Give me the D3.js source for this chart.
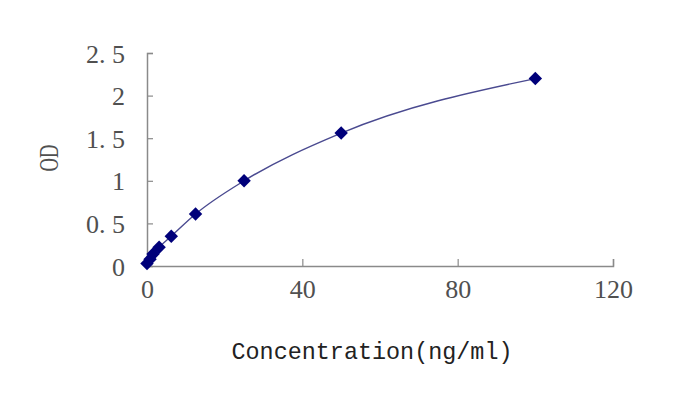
<!DOCTYPE html>
<html><head><meta charset="utf-8">
<script src="https://cdn.jsdelivr.net/npm/d3@7"></script>
<style>body{margin:0;background:#fff}svg{display:block}</style>
</head><body>
<svg id="c" width="680" height="406"></svg>
<script>
const concentration = [0, 0.78, 1.56, 3.12, 6.25, 12.5, 25, 50, 100];
const od = [0.03, 0.08, 0.14, 0.22, 0.35, 0.61, 1.0, 1.56, 2.2];
const xTicks = [0, 40, 80, 120];
const yTicks = [0, 0.5, 1, 1.5, 2, 2.5];
const yTickLabels = ["0", "0. 5", "1", "1. 5", "2", "2. 5"];
const xTitle = "Concentration(ng/ml)";
const yTitle = "OD";

const svg = d3.select("#c");
const x = d3.scaleLinear().domain([0, 120]).range([147, 613]);
const y = d3.scaleLinear().domain([0, 2.5]).range([266, 53]);
const axisColor = "#8a8a8a";

// axes
const xa = svg.append("g").attr("transform", "translate(0,266)")
  .call(d3.axisBottom(x).tickValues(xTicks).tickSize(-7).tickPadding(13).tickFormat(d3.format("d")));
const ya = svg.append("g").attr("transform", "translate(147,0)")
  .call(d3.axisLeft(y).tickValues(yTicks).tickSize(-6).tickPadding(22).tickFormat((d,i)=>yTickLabels[i]));
[xa, ya].forEach(g => {
  g.select(".domain").attr("stroke", axisColor).attr("stroke-width", 1.5);
  g.selectAll(".tick line").attr("stroke", axisColor).attr("stroke-width", 1.2);
  g.selectAll(".tick text").attr("fill", "#505050").style("font-family", "'Liberation Serif', serif").style("font-size", "26px");
});
xa.selectAll(".tick text").attr("dy", "0.72em");
ya.selectAll(".tick text").attr("dy", "0.35em");
ya.selectAll(".tick line").filter(d => d === 0).remove();
xa.selectAll(".tick line").filter(d => d === 0).remove();

// line
const data = concentration.map((c,i)=>({c, v: od[i]}));
svg.append("path").datum(data)
  .attr("fill", "none").attr("stroke", "#4a4a90").attr("stroke-width", 1.4)
  .attr("d", d3.line().x(d=>x(d.c)).y(d=>y(d.v)).curve(d3.curveMonotoneX));

// markers
svg.append("g").selectAll("path").data(data).join("path")
  .attr("transform", d => `translate(${x(d.c)},${y(d.v)})`)
  .attr("d", d3.symbol().type(d3.symbolDiamond2).size(115))
  .attr("fill", "#00007a");

// titles
svg.append("text").attr("x", 372).attr("y", 359).attr("text-anchor", "middle")
  .attr("textLength", 281).attr("lengthAdjust", "spacingAndGlyphs")
  .style("font-family", "'Liberation Mono', monospace").style("font-size", "24px").attr("fill", "#222")
  .text(xTitle);
svg.append("text").attr("transform", "translate(58,158) rotate(-90)").attr("text-anchor", "middle")
  .attr("textLength", 27).attr("lengthAdjust", "spacingAndGlyphs")
  .style("font-family", "'Liberation Serif', serif").style("font-size", "27px").attr("fill", "#505050")
  .text(yTitle);
</script>
</body></html>
